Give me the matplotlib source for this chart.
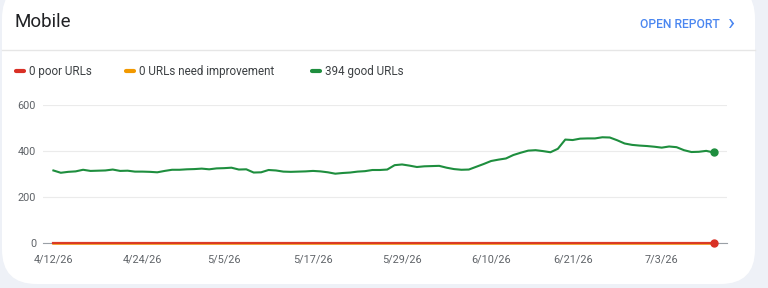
import matplotlib

matplotlib.use("Agg")
import matplotlib.pyplot as plt
from matplotlib.patches import FancyBboxPatch
import pandas as pd

plt.rcParams["font.family"] = ["Roboto", "DejaVu Sans"]

W, H = 768, 288

dates = pd.date_range("2026-04-12", periods=90, freq="D")
good_urls = [
    316, 306, 310, 312, 319, 314, 315, 316, 320, 314,
    315, 311, 311, 310, 308, 314, 319, 319, 321, 322,
    324, 321, 325, 326, 328, 320, 321, 307, 308, 318,
    316, 311, 310, 311, 312, 314, 312, 308, 302, 305,
    307, 311, 313, 318, 318, 320, 339, 342, 337, 331,
    334, 335, 336, 328, 322, 319, 320, 332, 344, 357,
    363, 368, 383, 393, 402, 404, 400, 395, 410, 450,
    448, 454, 455, 455, 460, 459, 447, 433, 427, 424,
    422, 419, 415, 420, 417, 404, 396, 397, 401, 394,
]
poor_urls = [0] * 90
need_improvement = [0] * 90
tick_dates = pd.to_datetime(["2026-04-12", "2026-04-24", "2026-05-05", "2026-05-17",
                             "2026-05-29", "2026-06-10", "2026-06-21", "2026-07-03"])
tick_labels = ["4/12/26", "4/24/26", "5/5/26", "5/17/26", "5/29/26", "6/10/26", "6/21/26", "7/3/26"]
y_ticks = [0, 200, 400, 600]

RED = "#d93025"
ORANGE = "#f29900"
GREEN = "#1e8e3e"
GRAY_TEXT = "#5f6368"
BLUE = "#4a86f0"


def fx(x):
    return x / W


def fy(y):
    return 1 - y / H


fig = plt.figure(figsize=(W / 100, H / 100), dpi=100)
fig.patch.set_facecolor("#eef1f7")

card = FancyBboxPatch((fx(2), fy(284)), fx(753), 300 / H,
                      boxstyle="round,pad=0,rounding_size=0.045",
                      transform=fig.transFigure, facecolor="white",
                      edgecolor="none", mutation_aspect=W / H, zorder=-5)
fig.patches.append(card)

# header
fig.text(fx(15), fy(22), "Mobile", fontsize=13.5, color="#202124", va="center", ha="left")
fig.text(fx(720), fy(24), "OPEN REPORT", fontsize=8.7, color=BLUE, va="center", ha="right",
         fontweight="medium")
fig.text(fx(732), fy(23), "›", fontsize=17, color=BLUE, va="center", ha="center")
fig.add_artist(plt.Line2D([fx(2), fx(755)], [fy(50), fy(50)], transform=fig.transFigure,
                          color="#e6e6e6", lw=1))

# legend
legend_items = [
    (16, RED, "0 poor URLs"),
    (126, ORANGE, "0 URLs need improvement"),
    (312, GREEN, "394 good URLs"),
]
for x0, color, text in legend_items:
    fig.add_artist(plt.Line2D([fx(x0), fx(x0 + 8)], [fy(71), fy(71)], transform=fig.transFigure,
                              color=color, lw=3, solid_capstyle="round"))
    fig.text(fx(x0 + 13), fy(71), text, fontsize=8.4, color="#3c4043", va="center", ha="left")

# chart
ax = fig.add_axes([fx(43), fy(243.3), (727 - 43) / W, (243.3 - 105) / H])
ax.set_zorder(2)
ax.set_facecolor("none")
ax.plot(dates, good_urls, color=GREEN, lw=1.5, zorder=3)
ax.plot(dates, need_improvement, color=ORANGE, lw=1.8, zorder=3, clip_on=False)
ax.plot(dates, poor_urls, color=RED, lw=1.6, zorder=4, clip_on=False, alpha=0.9)
ax.plot(dates[-1:], good_urls[-1:], "o", color=GREEN, ms=5, zorder=5, clip_on=False)
ax.plot(dates[-1:], poor_urls[-1:], "o", color=RED, ms=5, zorder=5, clip_on=False)

ax.set_xlim(dates[0] - pd.Timedelta(days=1.4), dates[-1] + pd.Timedelta(days=1.8))
ax.set_ylim(0, 600)
ax.set_yticks(y_ticks)
ax.set_xticks(tick_dates)
ax.set_xticklabels(tick_labels)
ax.grid(axis="y", color="#ebebeb", lw=0.8)
ax.grid(axis="x", visible=False)
for side in ["top", "right", "left"]:
    ax.spines[side].set_visible(False)
ax.spines["bottom"].set_color("#9aa0a6")
ax.spines["bottom"].set_linewidth(0.8)
ax.tick_params(axis="both", length=0, labelsize=7.8, colors=GRAY_TEXT)
ax.tick_params(axis="y", pad=5)
ax.tick_params(axis="x", pad=8)

fig.savefig("out.png", dpi=100)
